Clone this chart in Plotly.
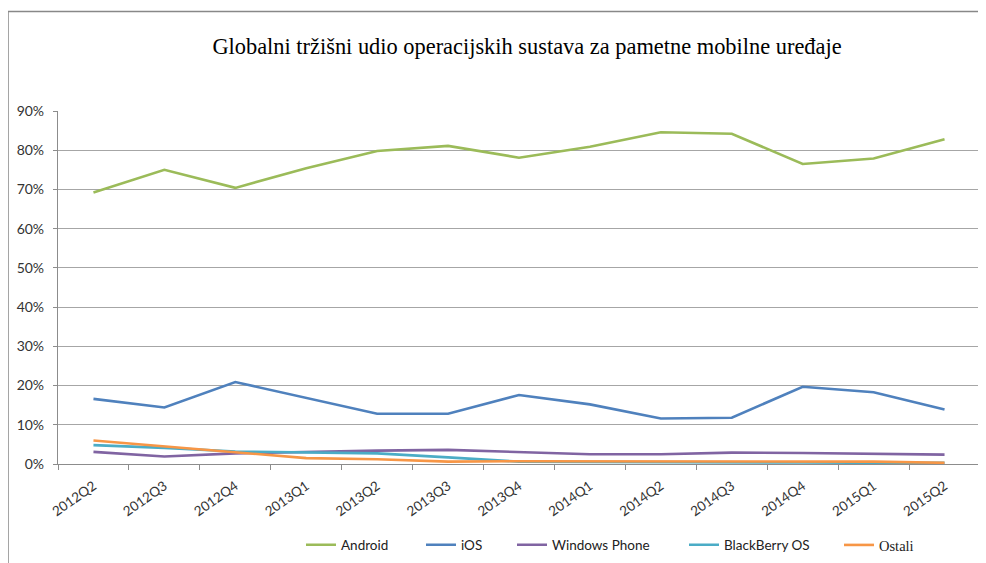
import plotly.graph_objects as go

categories = ["2012Q2", "2012Q3", "2012Q4", "2013Q1", "2013Q2", "2013Q3", "2013Q4",
              "2014Q1", "2014Q2", "2014Q3", "2014Q4", "2015Q1", "2015Q2"]
android = [69.2, 75.0, 70.4, 75.4, 79.8, 81.1, 78.1, 80.9, 84.6, 84.2, 76.5, 77.9, 82.8]
ios = [16.6, 14.4, 20.9, 16.9, 12.8, 12.8, 17.6, 15.2, 11.6, 11.8, 19.7, 18.3, 13.9]
windows_phone = [3.1, 1.9, 2.7, 3.1, 3.4, 3.6, 3.0, 2.5, 2.5, 2.9, 2.8, 2.6, 2.4]
blackberry = [4.8, 4.1, 3.2, 2.9, 2.7, 1.7, 0.6, 0.5, 0.5, 0.4, 0.4, 0.3, 0.3]
ostali = [6.0, 4.5, 3.0, 1.5, 1.2, 0.6, 0.7, 0.7, 0.6, 0.6, 0.6, 0.6, 0.3]

names = ["Android", "iOS", "Windows Phone", "BlackBerry OS", "Ostali"]
values = [android, ios, windows_phone, blackberry, ostali]
colors = ["#9BBB59", "#4F81BD", "#8064A2", "#4BACC6", "#F79646"]

# page has an 8px body margin; screen coords = figure coords + 8
OFF = 8
W, H = 978, 555
L, R, T, B = 50, 6, 103, 99
pw, ph = W - L - R, H - T - B

def px_x(p):  # screenshot x -> paper
    return (p - OFF - L) / pw

def px_y(p):  # screenshot y -> paper
    return (H - B - (p - OFF)) / ph

legend_ids = ["legend", "legend2", "legend3", "legend4", "legend5"]
sample_starts = [307, 427, 518, 690, 845]
legend_fonts = ["Lato, sans-serif"] * 4 + ["Liberation Serif, Times New Roman, serif"]
legend_sizes = [13.5, 13.5, 13.5, 13.5, 14.5]

fig = go.Figure()
for name, vals, color, lid in zip(names, values, colors, legend_ids):
    fig.add_trace(go.Scatter(
        x=categories, y=[v / 100 for v in vals], name=name, mode="lines",
        line=dict(color=color, width=2.6), legend=lid, hoverinfo="x+y+name"))

legend_layout = {}
for lid, sx, fnt, fs in zip(legend_ids, sample_starts, legend_fonts, legend_sizes):
    legend_layout[lid] = dict(
        orientation="h", x=px_x(sx - 6), xanchor="left", y=px_y(545), yanchor="middle",
        font=dict(family=fnt, size=fs, color="#222222"), itemwidth=30,
        bgcolor="rgba(0,0,0,0)", borderwidth=0)

fig.update_layout(
    width=W, height=H,
    margin=dict(l=L, r=R, t=T, b=B, autoexpand=False),
    paper_bgcolor="white", plot_bgcolor="white",
    font=dict(family="Lato, Open Sans, sans-serif", size=13, color="#333333"),
    title=dict(text="Globalni tržišni udio operacijskih sustava za pametne mobilne uređaje",
               x=(527 - OFF) / W, xanchor="center", xref="container",
               y=1 - (46 - OFF) / H, yanchor="middle",
               font=dict(family="Liberation Serif, Times New Roman, serif", size=22.4, color="#000000")),
    showlegend=True,
    xaxis=dict(type="category", range=[-0.5, 12.5], showgrid=False, showline=True,
               linecolor="#8c8c8c", linewidth=1.2, automargin=False,
               ticks="outside", tickson="boundaries", ticklen=5, tickcolor="#8c8c8c",
               tickangle=-35, ticklabelstandoff=8,
               tickfont=dict(size=13.5, color="#333333"), fixedrange=True),
    yaxis=dict(range=[0, 0.9], dtick=0.1, tickformat=".0%", showgrid=True, gridcolor="#a6a6a6",
               gridwidth=1, showline=True, linecolor="#8c8c8c", linewidth=1.2, automargin=False,
               ticks="outside", ticklen=4, tickcolor="#8c8c8c", zeroline=False,
               ticklabelstandoff=6,
               tickfont=dict(size=14, color="#333333"), fixedrange=True),
    shapes=[dict(type="rect", xref="paper", yref="paper",
                 x0=px_x(8.0), x1=px_x(1000), y0=px_y(580), y1=px_y(11.5),
                 line=dict(color="#888888", width=1.5), fillcolor="rgba(0,0,0,0)", layer="below")],
    **legend_layout,
)

fig.write_html("out.html")
